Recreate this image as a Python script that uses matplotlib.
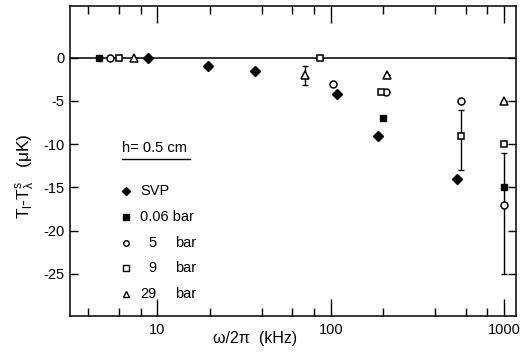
import matplotlib
matplotlib.use("Agg")
import matplotlib.pyplot as plt
from matplotlib.ticker import FixedLocator, NullFormatter

plt.rcParams['font.family'] = ['Liberation Sans', 'DejaVu Sans']
plt.rcParams['mathtext.fontset'] = 'custom'
plt.rcParams['mathtext.rm'] = 'Liberation Sans'
plt.rcParams['mathtext.it'] = 'Liberation Sans'
plt.rcParams['mathtext.bf'] = 'Liberation Sans:bold'

# Temperature shift T_l - T_lambda^s (microkelvin) versus frequency (kHz)
svp_f = [8.8, 19.7, 36.6, 109, 188, 534]
svp_dT = [0.0, -1.0, -1.5, -4.2, -9.0, -14.0]

p006_f = [4.63, 200, 1000]
p006_dT = [0.0, -7.0, -15.0]

p5_f = [5.33, 103, 209, 568, 1000]
p5_dT = [0.0, -3.0, -4.0, -5.0, -17.0]
p5_err_lo = [0, 0, 0, 0, 8.0]
p5_err_hi = [0, 0, 0, 0, 6.0]

p9_f = [6.01, 86.5, 195, 568, 1000]
p9_dT = [0.0, 0.0, -4.0, -9.0, -10.0]
p9_err_lo = [0, 0, 0, 4.0, 0]
p9_err_hi = [0, 0, 0, 3.0, 0]

p29_f = [7.34, 71, 212, 1000]
p29_dT = [0.0, -2.0, -2.0, -5.0]
p29_err_lo = [0, 1.2, 0, 0]
p29_err_hi = [0, 1.1, 0, 0]

legend_labels = ["SVP", "0.06 bar", ("5", "bar"), ("9", "bar"), ("29", "bar")]
x_ticks = [10, 100, 1000]
x_minor = [4, 6, 8, 20, 40, 60, 80, 200, 400, 600, 800]
y_ticks = [0, -5, -10, -15, -20, -25]

fig = plt.figure(figsize=(5.24, 3.56), dpi=100)
ax = fig.add_axes([70 / 524, 40 / 356, 446 / 524, 310 / 356])

ax.axhline(0, color='black', lw=1.1, zorder=1)

mk = dict(color='black', linestyle='none', zorder=3)
ax.plot(svp_f, svp_dT, marker='D', ms=5.5, **mk)
ax.plot(p006_f, p006_dT, marker='s', ms=5, **mk)

eb = dict(fmt='none', ecolor='black', elinewidth=1.0, capsize=2.2, capthick=1.0, zorder=2)
ax.errorbar(p5_f, p5_dT, yerr=[p5_err_lo, p5_err_hi], **eb)
ax.errorbar(p9_f, p9_dT, yerr=[p9_err_lo, p9_err_hi], **eb)
ax.errorbar(p29_f, p29_dT, yerr=[p29_err_lo, p29_err_hi], **eb)

ax.plot(p5_f, p5_dT, marker='o', ms=5, mfc='white', mec='black', mew=1.1, **mk)
ax.plot(p9_f, p9_dT, marker='s', ms=5, mfc='white', mec='black', mew=1.1, **mk)
ax.plot(p29_f, p29_dT, marker='^', ms=5.5, mfc='white', mec='black', mew=1.1, **mk)

ax.set_xscale('log')
ax.set_xlim(3.13, 1173)
ax.set_ylim(-29.9, 6)

ax.xaxis.set_major_locator(FixedLocator(x_ticks))
ax.xaxis.set_minor_locator(FixedLocator(x_minor))
ax.xaxis.set_minor_formatter(NullFormatter())
ax.set_xticklabels([str(v) for v in x_ticks])
ax.set_yticks(y_ticks)
ax.set_yticklabels([str(v) for v in y_ticks])

ax.tick_params(axis='x', which='major', direction='in', length=12, width=1.0,
               top=True, bottom=True, labelsize=10.5, pad=5)
ax.tick_params(axis='x', which='minor', direction='in', length=6, width=1.0,
               top=True, bottom=True)
ax.tick_params(axis='y', which='major', direction='in', length=6, width=1.0,
               left=True, right=True, labelsize=10.5, pad=4)
for s in ax.spines.values():
    s.set_linewidth(1.1)

ax.set_xlabel(r'ω/2π  (kHz)', fontsize=11.5)
ax.xaxis.set_label_coords(0.415, -0.05)
ax.set_ylabel(r'T$_\mathregular{l}$-T$^\mathregular{s}_\mathregular{λ}$   (μK)', fontsize=12.5)
ax.yaxis.set_label_coords(-0.075, 0.45)

# key
ax.text(0.116, 0.542, 'h= 0.5 cm', transform=ax.transAxes, fontsize=10.5,
        ha='left', va='center')
ax.plot([0.116, 0.269], [0.508, 0.508], transform=ax.transAxes, color='black', lw=1.0)

rows = [0.403, 0.320, 0.2365, 0.154, 0.070]
styles = [dict(marker='D', ms=4.5, mfc='black'),
          dict(marker='s', ms=4, mfc='black'),
          dict(marker='o', ms=4, mfc='white'),
          dict(marker='s', ms=4, mfc='white'),
          dict(marker='^', ms=4.5, mfc='white')]
for yr, st, lab in zip(rows, styles, legend_labels):
    ax.plot([0.1256], [yr], transform=ax.transAxes, color='black', mec='black',
            mew=1.0, linestyle='none', **st)
    if isinstance(lab, tuple):
        ax.text(0.195, yr, lab[0], transform=ax.transAxes, fontsize=10.5,
                ha='right', va='center')
        ax.text(0.2354, yr, lab[1], transform=ax.transAxes, fontsize=10.5,
                ha='left', va='center')
    else:
        ax.text(0.157, yr, lab, transform=ax.transAxes, fontsize=10.5,
                ha='left', va='center')

fig.savefig('out.png', dpi=100)
